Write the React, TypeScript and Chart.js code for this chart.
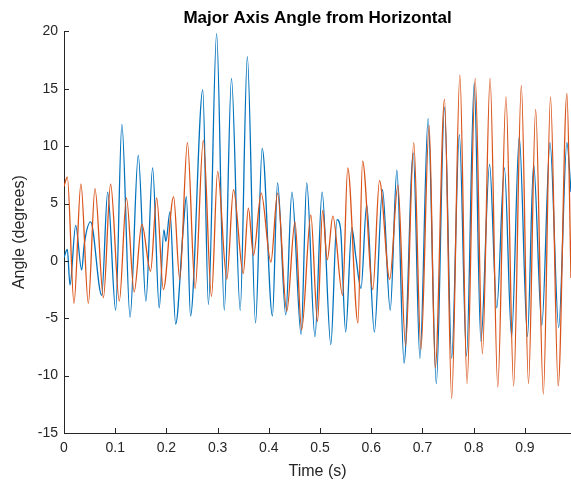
import { useEffect, useRef } from "react";
import { Chart, registerables } from "chart.js";

Chart.register(...registerables);

// Sample times (s) and angles (degrees) at the turning points of each trace
const seriesOneTime = [
  0, 0.0065, 0.0117, 0.0228, 0.0345, 0.0397, 0.052, 0.0736, 0.0853, 0.1009,
  0.113, 0.129, 0.145, 0.16, 0.173, 0.186, 0.195, 0.199, 0.207, 0.218,
  0.233, 0.239, 0.247, 0.271, 0.282, 0.298, 0.313, 0.327, 0.344, 0.358,
  0.374, 0.387, 0.407, 0.417, 0.433, 0.445, 0.463, 0.474, 0.49, 0.504,
  0.521, 0.533, 0.54, 0.55, 0.562, 0.57, 0.58, 0.591, 0.606, 0.622,
  0.637, 0.65, 0.664, 0.682, 0.695, 0.711, 0.727, 0.743, 0.757, 0.772,
  0.786, 0.801, 0.814, 0.831, 0.845, 0.86, 0.874, 0.889, 0.905, 0.917,
  0.933, 0.949, 0.966, 0.982, 0.99,
];
const seriesOneAngle = [
  0.3, 1.0, -2.1, 3.1, -0.8, 1.5, 3.4, -3.0, 6.0, -4.3,
  11.9, -4.9, 9.2, -3.5, 8.1, -4.1, 2.7, 1.7, 4.3, -5.5,
  2.9, 5.6, -4.8, 14.9, -3.8, 19.8, -4.3, 15.9, -4.3, 17.8,
  -5.4, 9.8, -4.8, 6.8, -4.7, 6.0, -6.4, 6.8, -6.6, 6.0,
  -7.3, 3.6, 2.8, -6.2, 2.9, 0.3, -2.4, 4.9, -6.2, 6.2,
  -4.3, 7.9, -8.9, 9.4, -8.5, 12.4, -10.7, 13.4, -8.5, 11.0,
  -8.3, 15.5, -7.0, 8.4, -4.1, 8.1, -6.6, 10.8, -6.6, 8.4,
  -5.6, 10.3, -5.8, 10.3, 6.0,
];

const seriesTwoTime = [
  0, 0.0065, 0.0195, 0.033, 0.0475, 0.0605, 0.077, 0.091, 0.108, 0.122,
  0.137, 0.152, 0.169, 0.181, 0.194, 0.214, 0.226, 0.241, 0.256, 0.272,
  0.288, 0.3, 0.318, 0.331, 0.35, 0.36, 0.37, 0.385, 0.404, 0.417,
  0.435, 0.451, 0.464, 0.482, 0.495, 0.505, 0.514, 0.525, 0.544, 0.554,
  0.574, 0.583, 0.603, 0.616, 0.636, 0.652, 0.667, 0.683, 0.697, 0.713,
  0.725, 0.743, 0.757, 0.773, 0.787, 0.803, 0.817, 0.832, 0.847, 0.863,
  0.878, 0.893, 0.907, 0.921, 0.936, 0.95, 0.965, 0.982, 0.99,
];
const seriesTwoAngle = [
  6.5, 7.3, -3.7, 6.7, -3.7, 6.3, -3.2, 6.7, -3.5, 5.5,
  -2.7, 3.2, -0.9, 5.5, -2.5, 5.6, -1.6, 10.3, -2.4, 10.5,
  -3.1, 7.8, -1.6, 6.2, -1.1, 4.6, 0.5, 5.9, -0.1, 5.9,
  -4.4, 3.4, -6.0, 4.0, -5.3, 4.4, 0.1, 3.9, -3.0, 8.1,
  -5.4, 8.7, -2.5, 7.0, -1.6, 6.6, -7.4, 10.3, -7.7, 11.8,
  -9.3, 14.1, -12.0, 16.2, -10.7, 15.9, -8.1, 15.9, -11.0, 14.3,
  -10.9, 15.3, -10.7, 13.2, -11.6, 14.3, -10.9, 14.6, -1.5,
];

const xTickValues = [0, 0.1, 0.2, 0.3, 0.4, 0.5, 0.6, 0.7, 0.8, 0.9];
const xTickLabels = ["0", "0.1", "0.2", "0.3", "0.4", "0.5", "0.6", "0.7", "0.8", "0.9"];
const yTickValues = [-15, -10, -5, 0, 5, 10, 15, 20];

const AXIS_COLOR = "#262626";
const FONT_FAMILY = "'Liberation Sans', Arial, Helvetica, sans-serif";

const toPoints = (t: number[], v: number[]) => t.map((x, i) => ({ x, y: v[i] }));

// Tick marks that point into the plot area from the left and bottom axes
const inwardTicks = {
  id: "inwardTicks",
  afterDatasetsDraw(chart: any) {
    const { ctx, chartArea, scales } = chart;
    ctx.save();
    ctx.strokeStyle = AXIS_COLOR;
    ctx.lineWidth = 1;
    ctx.beginPath();
    scales.x.ticks.forEach((t: any) => {
      const px = Math.round(scales.x.getPixelForValue(t.value)) + 0.5;
      ctx.moveTo(px, chartArea.bottom);
      ctx.lineTo(px, chartArea.bottom - 5);
    });
    scales.y.ticks.forEach((t: any) => {
      const py = Math.round(scales.y.getPixelForValue(t.value)) + 0.5;
      ctx.moveTo(chartArea.left, py);
      ctx.lineTo(chartArea.left + 5, py);
    });
    ctx.stroke();
    ctx.restore();
  },
};

export default function App() {
  const canvasRef = useRef<HTMLCanvasElement | null>(null);

  useEffect(() => {
    if (!canvasRef.current) return;
    const chart = new Chart(canvasRef.current, {
      type: "line",
      data: {
        datasets: [
          {
            data: toPoints(seriesOneTime, seriesOneAngle),
            borderColor: "#0072BD",
            borderWidth: 1.3,
            pointRadius: 0,
            cubicInterpolationMode: "monotone",
            order: 1,
          },
          {
            data: toPoints(seriesTwoTime, seriesTwoAngle),
            borderColor: "#D95319",
            borderWidth: 1.3,
            pointRadius: 0,
            cubicInterpolationMode: "monotone",
            order: 0,
          },
        ],
      },
      options: {
        animation: false,
        responsive: false,
        parsing: false as any,
        layout: { padding: 0 },
        plugins: {
          legend: { display: false },
          tooltip: { enabled: false },
          title: {
            display: true,
            fullSize: false,
            text: "Major Axis Angle from Horizontal",
            color: "#000000",
            font: { family: FONT_FAMILY, size: 17, weight: "bold" },
            padding: { top: 8, bottom: 3 },
          },
        },
        scales: {
          x: {
            type: "linear",
            min: 0,
            max: 0.99,
            afterBuildTicks: (scale: any) => {
              scale.ticks = xTickValues.map((value) => ({ value }));
            },
            afterFit: (scale: any) => {
              scale.height = 50;
            },
            grid: { display: false, drawTicks: false },
            border: { display: true, color: AXIS_COLOR, width: 1 },
            ticks: {
              color: AXIS_COLOR,
              padding: 7,
              maxRotation: 0,
              font: { family: FONT_FAMILY, size: 14 },
              callback: (_v: any, i: number) => xTickLabels[i],
            },
            title: {
              display: true,
              text: "Time (s)",
              color: AXIS_COLOR,
              font: { family: FONT_FAMILY, size: 16 },
              padding: { top: 0, bottom: 2 },
            },
          },
          y: {
            type: "linear",
            min: -15,
            max: 20,
            afterBuildTicks: (scale: any) => {
              scale.ticks = yTickValues.map((value) => ({ value }));
            },
            afterFit: (scale: any) => {
              scale.width = 64;
            },
            grid: { display: false, drawTicks: false },
            border: { display: true, color: AXIS_COLOR, width: 1 },
            ticks: {
              color: AXIS_COLOR,
              padding: 6,
              font: { family: FONT_FAMILY, size: 14 },
              callback: (v: any) => String(v),
            },
            title: {
              display: true,
              text: "Angle (degrees)",
              color: AXIS_COLOR,
              font: { family: FONT_FAMILY, size: 16 },
              padding: { top: 10, bottom: 0 },
            },
          },
        },
      },
      plugins: [inwardTicks],
    });
    return () => chart.destroy();
  }, []);

  return (
    <div style={{ position: "absolute", left: 0, top: 0, width: 571, height: 483, background: "#ffffff" }}>
      <canvas ref={canvasRef} width={571} height={483} />
    </div>
  );
}
